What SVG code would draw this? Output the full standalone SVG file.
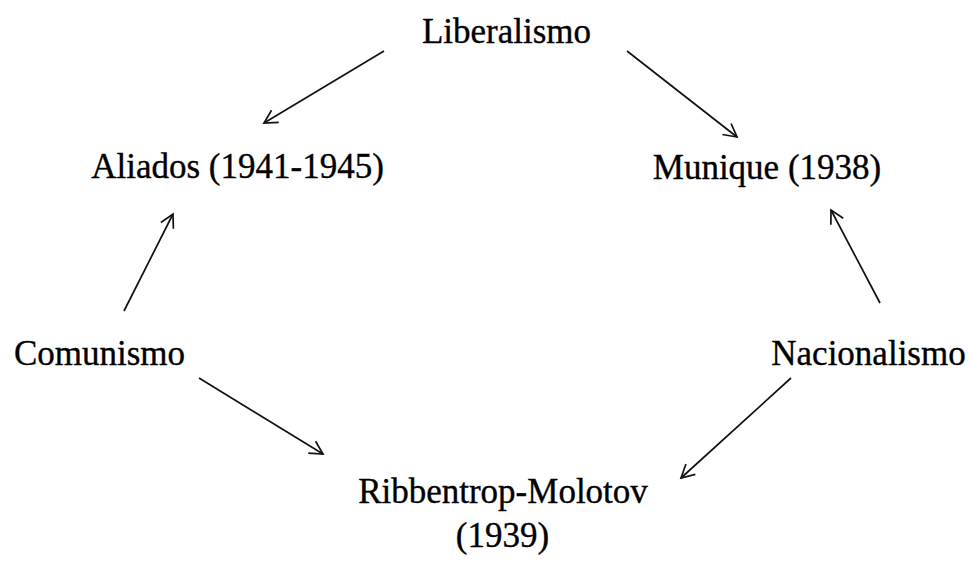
<svg xmlns="http://www.w3.org/2000/svg" width="971" height="562" viewBox="0 0 971 562">
<style>
.lbl{font-family:"Liberation Serif","Times New Roman",serif;font-size:35px;fill:#000;stroke:#000;stroke-width:0.35;text-anchor:middle}
.edge{stroke:#111;stroke-width:1.7;fill:none;marker-end:url(#arr)}
</style>
<defs>
<marker id="arr" markerUnits="userSpaceOnUse" viewBox="-15 -9 17 18" refX="0" refY="0" markerWidth="17" markerHeight="18" orient="auto" overflow="visible">
<path d="M-13,-7 L0,0 L-13,7" fill="none" stroke="#111" stroke-width="1.7" stroke-linejoin="miter"/>
</marker>
</defs>
<rect width="971" height="562" fill="#fff"/>
<g id="connectors">
<line class="edge" x1="384" y1="51" x2="264" y2="123"/>
<line class="edge" x1="627" y1="51" x2="737" y2="137"/>
<line class="edge" x1="124" y1="311" x2="173" y2="214"/>
<line class="edge" x1="880" y1="303" x2="831" y2="210"/>
<line class="edge" x1="199" y1="378" x2="323" y2="454"/>
<line class="edge" x1="791" y1="378" x2="681" y2="478"/>
</g>
<g id="liberalismo"><text class="lbl" x="506.5" y="43">Liberalismo</text></g>
<g id="aliados"><text class="lbl" x="237.5" y="178">Aliados (1941-1945)</text></g>
<g id="munique"><text class="lbl" x="767" y="179">Munique (1938)</text></g>
<g id="comunismo"><text class="lbl" x="99.5" y="365">Comunismo</text></g>
<g id="nacionalismo"><text class="lbl" x="868.5" y="365">Nacionalismo</text></g>
<g id="ribbentrop"><text class="lbl" x="503" y="503">Ribbentrop-Molotov</text><text class="lbl" x="502.5" y="547">(1939)</text></g>
</svg>
